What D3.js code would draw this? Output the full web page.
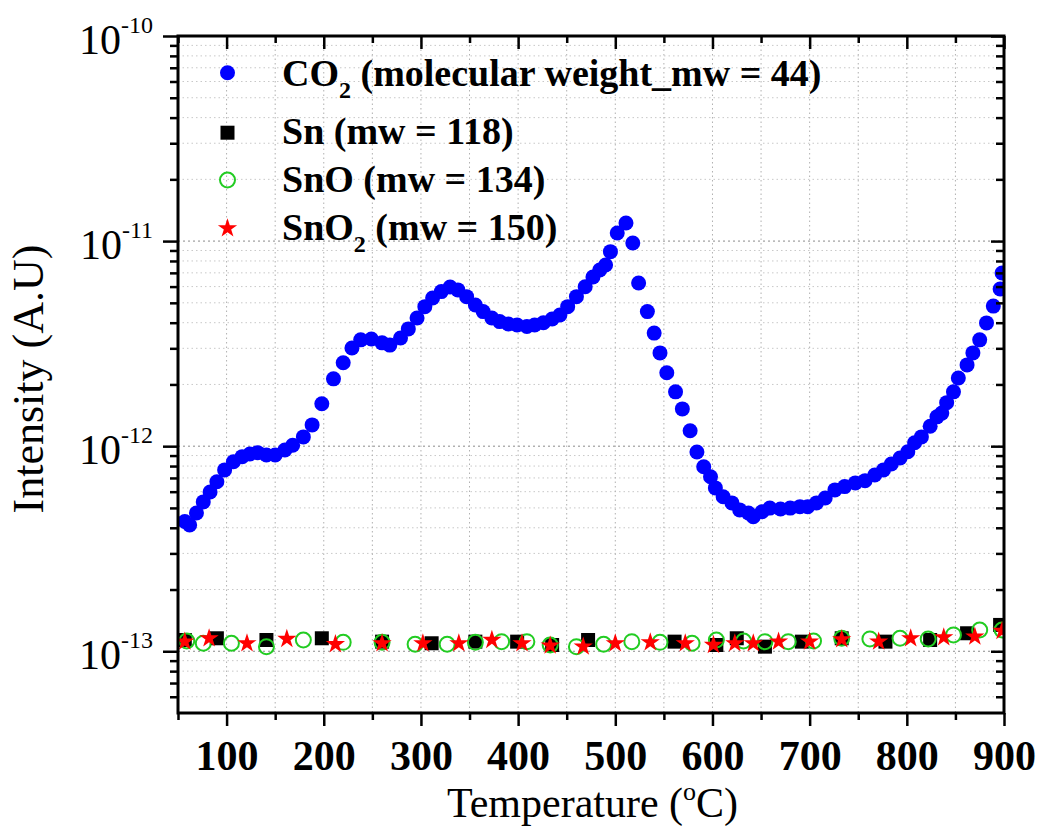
<!DOCTYPE html>
<html><head><meta charset="utf-8">
<script src="https://cdn.jsdelivr.net/npm/d3@7"></script>
<style>body{margin:0;background:#fff} svg{display:block}</style>
</head><body>
<svg id="c" width="1041" height="836"></svg>
<script>
// ---------------- data ----------------
const co2Temp = [57,62,69,76,83,90,98,107,116,124,
  132,141,150,160,168,179,188,198,210,220,
  229,238,249,260,268,279,287,296,304,312,
  321,330,338,347,356,364,373,381,390,399,
  409,417,426,435,443,451,460,469,477,484,
  490,495,502,511,518,524,533,540,546,553,
  562,569,577,584,591,598,603,611,620,628,
  637,642,651,659,670,680,690,698,707,716,
  726,736,747,757,767,776,784,793,801,808,
  815,824,831,836,841,848,853,862,868,875,
  882,889,896,898];
const co2Val = [4.29e-13,4.13e-13,4.72e-13,5.35e-13,5.98e-13,6.71e-13,7.66e-13,8.40e-13,8.89e-13,9.16e-13,
  9.30e-13,9.06e-13,9.06e-13,9.58e-13,1.01e-12,1.11e-12,1.27e-12,1.61e-12,2.13e-12,2.55e-12,
  3.01e-12,3.30e-12,3.33e-12,3.19e-12,3.11e-12,3.37e-12,3.73e-12,4.22e-12,4.79e-12,5.28e-12,
  5.67e-12,5.97e-12,5.78e-12,5.36e-12,4.88e-12,4.53e-12,4.22e-12,4.05e-12,3.94e-12,3.90e-12,
  3.83e-12,3.90e-12,4.00e-12,4.17e-12,4.36e-12,4.79e-12,5.36e-12,5.99e-12,6.68e-12,7.23e-12,
  7.65e-12,8.88e-12,1.095e-11,1.225e-11,9.79e-12,6.25e-12,4.53e-12,3.56e-12,2.85e-12,2.28e-12,
  1.84e-12,1.52e-12,1.19e-12,9.37e-13,7.94e-13,7.10e-13,6.26e-13,5.67e-13,5.29e-13,4.89e-13,
  4.72e-13,4.53e-13,4.79e-13,4.99e-13,4.94e-13,4.99e-13,5.07e-13,5.07e-13,5.29e-13,5.59e-13,
  6.12e-13,6.35e-13,6.62e-13,6.79e-13,7.24e-13,7.66e-13,8.19e-13,8.76e-13,9.40e-13,1.04e-12,
  1.11e-12,1.25e-12,1.39e-12,1.45e-12,1.63e-12,1.84e-12,2.15e-12,2.49e-12,2.85e-12,3.30e-12,
  3.99e-12,4.82e-12,5.84e-12,6.99e-12];

const snTemp = [57,90,141,198,260,311,356,399,435,472,561,604,625,654,692,733,778,824,862,896];
const snVal  = [1.135e-13,1.157e-13,1.135e-13,1.157e-13,1.114e-13,1.094e-13,1.114e-13,1.114e-13,1.073e-13,1.135e-13,
  1.114e-13,1.073e-13,1.157e-13,1.053e-13,1.114e-13,1.157e-13,1.114e-13,1.135e-13,1.224e-13,1.344e-13];

const snoTemp = [59,76,105,141,179,220,260,294,327,356,383,409,433,460,488,517,546,579,604,632,654,678,704,733,762,793,822,848,875,898];
const snoVal  = [1.122e-13,1.094e-13,1.094e-13,1.053e-13,1.135e-13,1.106e-13,1.106e-13,1.082e-13,1.082e-13,1.106e-13,
  1.114e-13,1.114e-13,1.073e-13,1.053e-13,1.082e-13,1.114e-13,1.106e-13,1.094e-13,1.135e-13,1.122e-13,
  1.114e-13,1.114e-13,1.122e-13,1.157e-13,1.148e-13,1.157e-13,1.148e-13,1.201e-13,1.270e-13,1.270e-13];

const sno2Temp = [57,82,121,162,212,260,302,339,373,404,433,467,500,536,572,601,623,642,668,700,733,771,804,838,870,898];
const sno2Val  = [1.114e-13,1.157e-13,1.094e-13,1.148e-13,1.082e-13,1.094e-13,1.094e-13,1.094e-13,1.135e-13,1.094e-13,
  1.065e-13,1.053e-13,1.094e-13,1.106e-13,1.094e-13,1.073e-13,1.094e-13,1.094e-13,1.114e-13,1.114e-13,
  1.144e-13,1.114e-13,1.157e-13,1.170e-13,1.178e-13,1.256e-13];

const xMajorTicks = [100,200,300,400,500,600,700,800,900];
const xMinorTicks = [50,150,250,350,450,550,650,750,850];
const yMajorTicks = [1e-13,1e-12,1e-11,1e-10];
const yTickExponents = ["-13","-12","-11","-10"];
const legendLabels = [
  [["CO",""],["2","sub"],[" (molecular weight_mw = 44)",""]],
  [["Sn (mw = 118)",""]],
  [["SnO (mw = 134)",""]],
  [["SnO",""],["2","sub"],[" (mw = 150)",""]]
];

// ---------------- layout ----------------
const FF = "'Liberation Serif','Times New Roman',serif";
const L = 178, R = 1004, T = 36, B = 713;
const svg = d3.select("#c");
const x = d3.scaleLinear().domain([50, 900]).range([L, R]);
const y = d3.scaleLog().domain([5e-14, 1e-10]).range([B, T]);

const yMinorTicks = [];
for (let e = -14; e <= -11; e++) for (let m = 2; m <= 9; m++) {
  const v = m * Math.pow(10, e);
  if (v > 5.01e-14 && v < 0.99e-10) yMinorTicks.push(v);
}

svg.append("rect").attr("width", 1041).attr("height", 836).attr("fill", "#fff");

// grid
const grid = svg.append("g");
grid.selectAll("line.hm").data(yMinorTicks).join("line")
  .attr("x1", L).attr("x2", R).attr("y1", d => y(d)).attr("y2", d => y(d))
  .attr("stroke", "#c8c8c8").attr("stroke-width", 1).attr("stroke-dasharray", "1.5,3");
grid.selectAll("line.hM").data(yMajorTicks.slice(0, 3)).join("line")
  .attr("x1", L).attr("x2", R).attr("y1", d => y(d)).attr("y2", d => y(d))
  .attr("stroke", "#8a8a8a").attr("stroke-width", 1).attr("stroke-dasharray", "2,3");
grid.selectAll("line.v").data(xMajorTicks.concat(xMinorTicks).filter(d => d > 50 && d < 900)).join("line")
  .attr("y1", T).attr("y2", B).attr("x1", d => x(d)).attr("x2", d => x(d))
  .attr("stroke", "#b0b0b0").attr("stroke-width", 1).attr("stroke-dasharray", "1.5,3");

// data
svg.append("clipPath").attr("id", "clip").append("rect")
  .attr("x", L).attr("y", T).attr("width", R - L).attr("height", B - T);
const plot = svg.append("g").attr("clip-path", "url(#clip)");

plot.selectAll("circle.co2").data(co2Temp.map((t, i) => [t, co2Val[i]])).join("circle")
  .attr("cx", d => x(d[0])).attr("cy", d => y(d[1])).attr("r", 7.5).attr("fill", "#0000ff");

const sq = d3.symbol(d3.symbolSquare, 196);
plot.selectAll("path.sn").data(snTemp.map((t, i) => [t, snVal[i]])).join("path")
  .attr("d", sq).attr("transform", d => `translate(${x(d[0])},${y(d[1])})`).attr("fill", "#000");

plot.selectAll("circle.sno").data(snoTemp.map((t, i) => [t, snoVal[i]])).join("circle")
  .attr("cx", d => x(d[0])).attr("cy", d => y(d[1])).attr("r", 7.5)
  .attr("fill", "none").attr("stroke", "#22cc22").attr("stroke-width", 2);

const star = d3.symbol(d3.symbolStar, 115);
plot.selectAll("path.sno2").data(sno2Temp.map((t, i) => [t, sno2Val[i]])).join("path")
  .attr("d", star).attr("transform", d => `translate(${x(d[0])},${y(d[1])})`).attr("fill", "#ff0000");

// axes
function styleTicks(g) {
  g.select(".domain").remove();
  g.selectAll(".tick line").attr("stroke", "#000").attr("stroke-width", 2.5);
}
svg.append("g").attr("transform", `translate(0,${B})`)
  .call(d3.axisBottom(x).tickValues(xMinorTicks).tickSize(7).tickFormat(""))
  .call(styleTicks);
const xb = svg.append("g").attr("transform", `translate(0,${B})`)
  .call(d3.axisBottom(x).tickValues(xMajorTicks).tickSize(13).tickPadding(14).tickFormat(d => d))
  .call(styleTicks);
xb.selectAll(".tick text").attr("font-family", FF).attr("font-size", 42).attr("font-weight", "bold").attr("fill", "#000");

svg.append("g").attr("transform", `translate(0,${T})`)
  .call(d3.axisTop(x).tickValues(xMinorTicks).tickSize(-7).tickFormat(""))
  .call(styleTicks);
svg.append("g").attr("transform", `translate(0,${T})`)
  .call(d3.axisTop(x).tickValues(xMajorTicks).tickSize(-13).tickFormat(""))
  .call(styleTicks);

svg.append("g").attr("transform", `translate(${L},0)`)
  .call(d3.axisLeft(y).tickValues(yMinorTicks).tickSize(8).tickFormat(""))
  .call(styleTicks);
const yl = svg.append("g").attr("transform", `translate(${L},0)`)
  .call(d3.axisLeft(y).tickValues(yMajorTicks).tickSize(15).tickFormat(""))
  .call(styleTicks);
yl.selectAll(".tick text").each(function (d, i) {
  const t = d3.select(this);
  t.text(null).attr("x", -25).attr("dy", null).attr("y", 17)
    .attr("font-family", FF).attr("font-size", 42).attr("fill", "#000").attr("text-anchor", "end");
  t.append("tspan").text("10");
  t.append("tspan").attr("dy", -21).attr("font-size", 24).text(yTickExponents[i]);
});

svg.append("g").attr("transform", `translate(${R},0)`)
  .call(d3.axisRight(y).tickValues(yMinorTicks).tickSize(-8).tickFormat(""))
  .call(styleTicks);
svg.append("g").attr("transform", `translate(${R},0)`)
  .call(d3.axisRight(y).tickValues(yMajorTicks).tickSize(-13).tickFormat(""))
  .call(styleTicks);

// frame
svg.append("rect").attr("x", L).attr("y", T).attr("width", R - L).attr("height", B - T)
  .attr("fill", "none").attr("stroke", "#000").attr("stroke-width", 3);

// axis titles
const xt = svg.append("text").attr("x", 447).attr("y", 817)
  .attr("font-family", FF).attr("font-size", 42).attr("fill", "#000");
xt.append("tspan").text("Temperature (");
xt.append("tspan").attr("dy", -17).attr("font-size", 26).text("o");
xt.append("tspan").attr("dy", 17).text("C)");

svg.append("text").attr("transform", "translate(43,379) rotate(-90)")
  .attr("text-anchor", "middle").attr("font-family", FF).attr("font-size", 44).attr("fill", "#000")
  .text("Intensity (A.U)");

// legend
const legY = [72.7, 132.7, 180, 228.3];
const legBase = [86, 144, 192, 240];
const lx = 227.5;
const lg = svg.append("g");
lg.append("circle").attr("cx", lx).attr("cy", legY[0]).attr("r", 7.5).attr("fill", "#0000ff");
lg.append("path").attr("d", sq).attr("transform", `translate(${lx},${legY[1]})`).attr("fill", "#000");
lg.append("circle").attr("cx", lx).attr("cy", legY[2]).attr("r", 7.5).attr("fill", "none")
  .attr("stroke", "#22cc22").attr("stroke-width", 2);
lg.append("path").attr("d", star).attr("transform", `translate(${lx},${legY[3]})`).attr("fill", "#ff0000");

legendLabels.forEach((parts, i) => {
  const t = lg.append("text").attr("x", 282).attr("y", legBase[i])
    .attr("font-family", FF).attr("font-size", 38).attr("font-weight", "bold").attr("fill", "#000");
  let shifted = false;
  parts.forEach(p => {
    const s = t.append("tspan").text(p[0]);
    if (p[1] === "sub") { s.attr("dy", 12).attr("font-size", 24); shifted = true; }
    else if (shifted) { s.attr("dy", -12); shifted = false; }
  });
});
</script>
</body></html>
